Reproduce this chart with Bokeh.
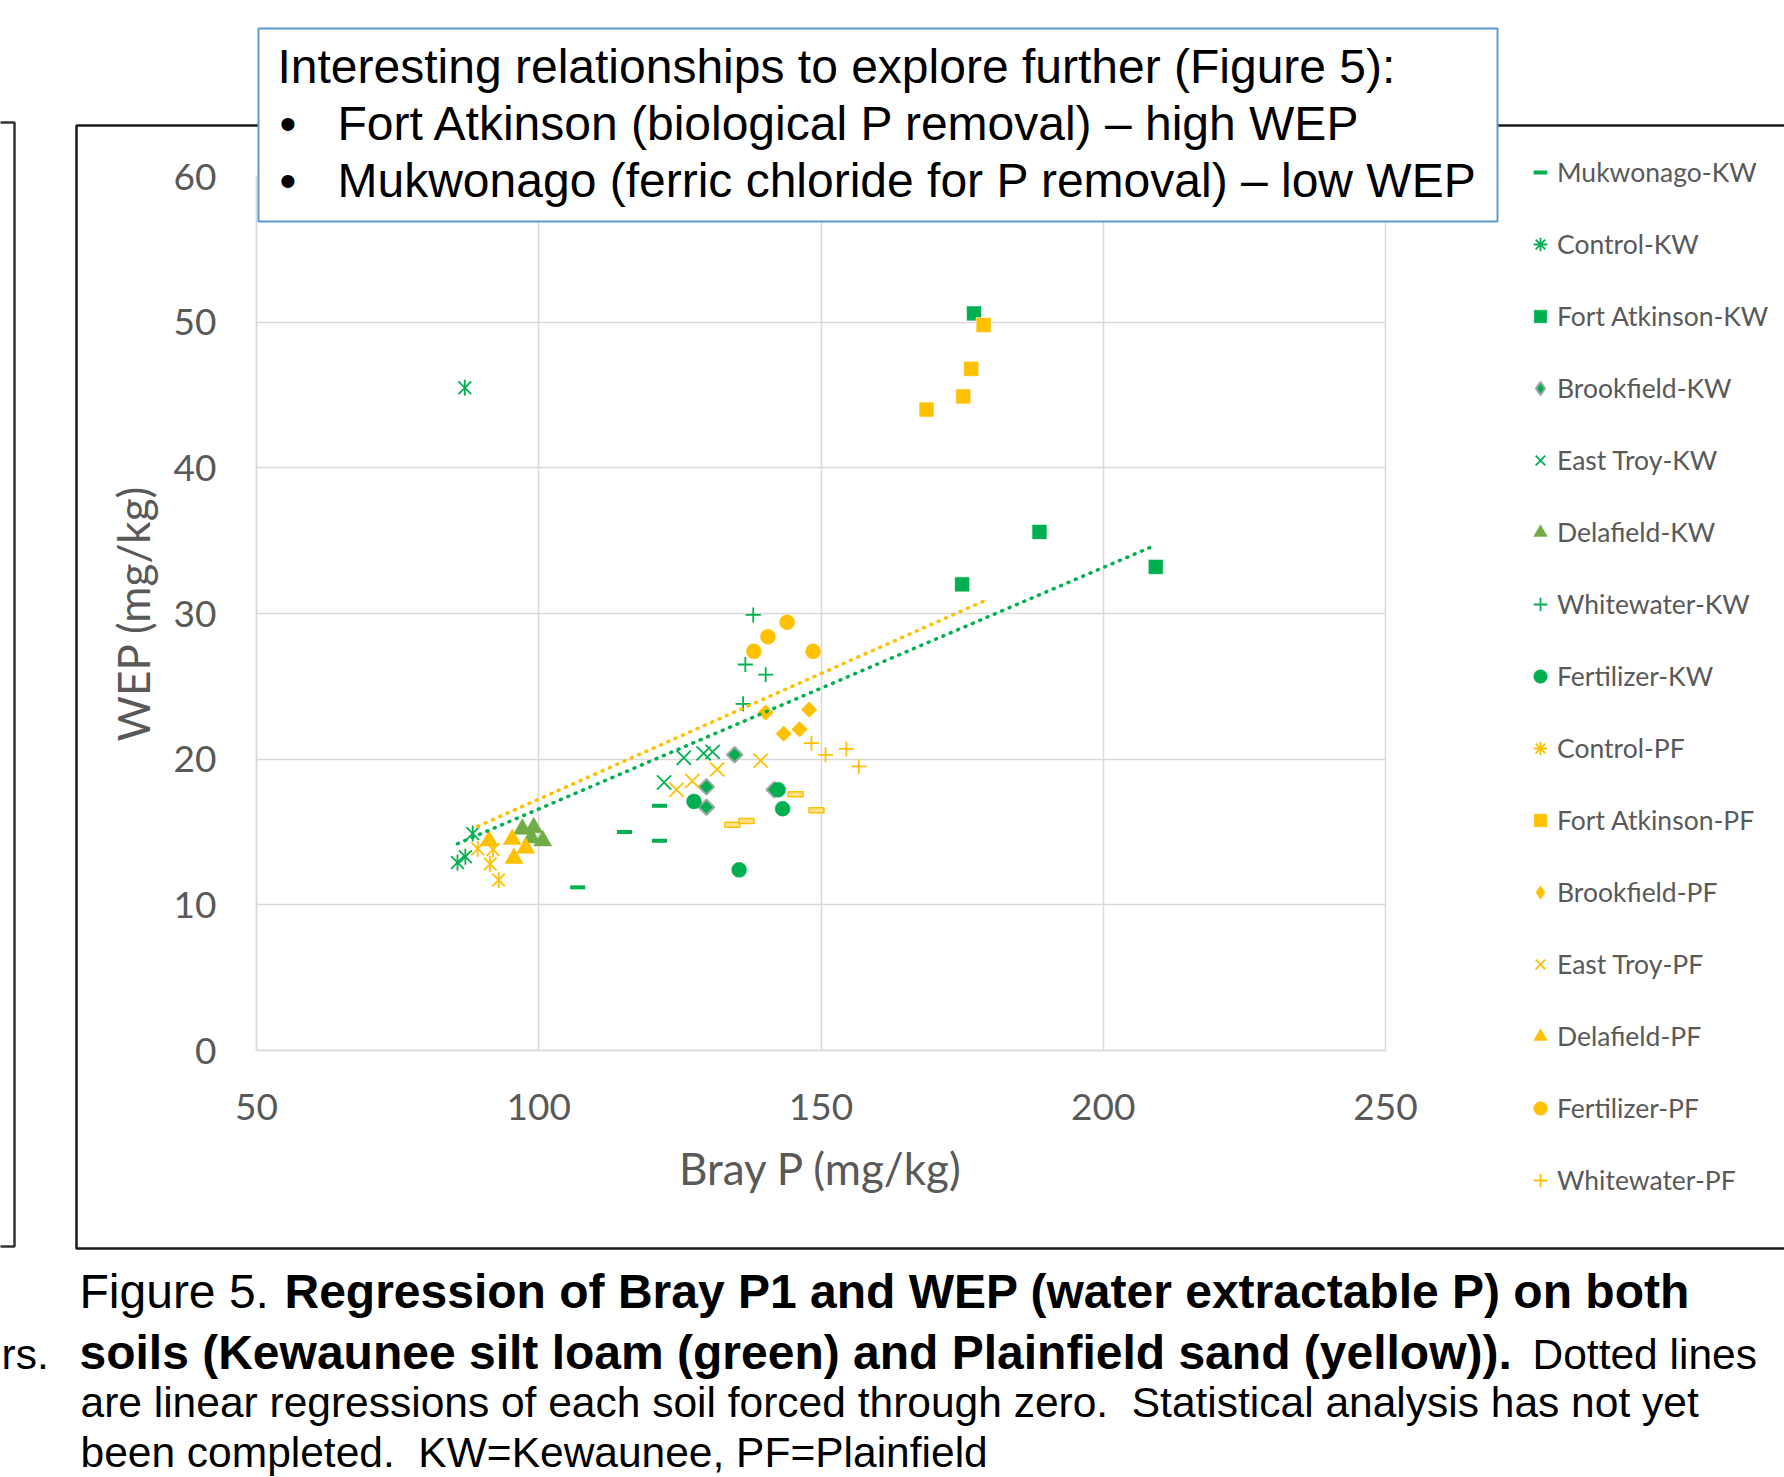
import numpy as np
from bokeh.plotting import figure
from bokeh.models import (Range1d, FixedTicker, Label, BoxAnnotation, Legend,
                          LegendItem)
from bokeh.embed import file_html
from bokeh.resources import INLINE

# ---------------- data (Bray P mg/kg, WEP mg/kg) ----------------
mukwonago_kw_x = [106.9, 115.2, 121.4, 121.4]
mukwonago_kw_y = [11.2, 15.0, 16.8, 14.4]
control_kw_x = [85.6, 87.0, 88.3, 86.9]
control_kw_y = [12.9, 13.3, 14.9, 45.5]
fortatk_kw_x = [177.1, 188.7, 209.3, 175.0]
fortatk_kw_y = [50.6, 35.6, 33.2, 32.0]
brookfield_kw_x = [129.7, 129.7, 134.7, 141.7]
brookfield_kw_y = [18.1, 16.7, 20.3, 17.9]
easttroy_kw_x = [122.2, 125.7, 129.2, 130.8]
easttroy_kw_y = [18.4, 20.1, 20.4, 20.5]
delafield_kw_x = [97.1, 99.1, 98.7, 100.7]
delafield_kw_y = [15.2, 15.3, 14.6, 14.4]
whitewater_kw_x = [138.0, 136.6, 140.2, 136.2]
whitewater_kw_y = [29.9, 26.5, 25.8, 23.8]
fertilizer_kw_x = [127.5, 142.4, 143.2, 135.5]
fertilizer_kw_y = [17.1, 17.9, 16.6, 12.4]

mukwonago_pf_x = [134.3, 136.8, 145.5, 149.2]
mukwonago_pf_y = [15.5, 15.75, 17.6, 16.5]
control_pf_x = [89.2, 91.9, 91.4, 92.9]
control_pf_y = [13.85, 13.8, 12.8, 11.7]
fortatk_pf_x = [178.8, 176.6, 175.2, 168.7]
fortatk_pf_y = [49.8, 46.8, 44.9, 44.0]
brookfield_pf_x = [140.2, 147.9, 143.4, 146.2]
brookfield_pf_y = [23.2, 23.4, 21.75, 22.05]
easttroy_pf_x = [124.4, 127.2, 131.6, 139.3]
easttroy_pf_y = [17.9, 18.5, 19.3, 19.9]
delafield_pf_x = [91.2, 95.3, 95.6, 97.7]
delafield_pf_y = [14.4, 14.5, 13.2, 13.9]
fertilizer_pf_x = [144.0, 140.6, 138.1, 148.6]
fertilizer_pf_y = [29.4, 28.4, 27.4, 27.4]
whitewater_pf_x = [148.3, 150.8, 154.5, 156.7]
whitewater_pf_y = [21.1, 20.3, 20.7, 19.5]

x_ticks = [50, 100, 150, 200, 250]
y_ticks = [0, 10, 20, 30, 40, 50, 60]
X_MIN, X_MAX, Y_MIN, Y_MAX = 50, 250, 0, 60

GREEN = "#00B050"
YELLOW = "#FFC000"
OLIVE = "#70AD47"
GRAY_TXT = "#595959"
GRID = "#D9D9D9"

# ---------------- geometry (canvas pixels of the plot area) ----------------
W, H = 1784, 1477
PX0, PX1 = 256, 1385     # x = 50 .. 250
PY0, PY1 = 1050, 176     # y = 0 .. 60
kx = (X_MAX - X_MIN) / (PX1 - PX0)
ky = (Y_MAX - Y_MIN) / (PY0 - PY1)


def px_x(px):
    return X_MIN + (px - PX0) * kx


def px_y(py):
    return Y_MIN + (PY0 - py) * ky


p = figure(width=W, height=H, output_backend="svg", toolbar_location=None,
           x_range=Range1d(px_x(0), px_x(W)), y_range=Range1d(px_y(H), px_y(0)),
           min_border_left=0, min_border_right=0, min_border_top=0,
           min_border_bottom=0)
p.outline_line_color = None
p.background_fill_color = "white"
p.border_fill_color = "white"

p.xaxis.fixed_location = Y_MIN
p.yaxis.fixed_location = X_MIN
p.xaxis.bounds = (X_MIN, X_MAX)
p.yaxis.bounds = (Y_MIN, Y_MAX)
for ax, ticks in ((p.xaxis[0], x_ticks), (p.yaxis[0], y_ticks)):
    ax.ticker = FixedTicker(ticks=ticks)
    ax.axis_line_color = GRID
    ax.axis_line_width = 1.5
    ax.major_tick_line_color = None
    ax.minor_tick_line_color = None
    ax.major_tick_in = 0
    ax.major_tick_out = 0
    ax.major_label_text_font = "Lato"
    ax.major_label_text_font_size = "37px"
    ax.major_label_text_color = GRAY_TXT
    ax.axis_label_text_font = "Lato"
    ax.axis_label_text_font_size = "44px"
    ax.axis_label_text_font_style = "normal"
    ax.axis_label_text_color = GRAY_TXT
p.xaxis.axis_label = "Bray P (mg/kg)"
p.yaxis.axis_label = "WEP (mg/kg)"
p.xaxis.major_label_standoff = 43
p.yaxis.major_label_standoff = 40
p.xaxis.axis_label_standoff = 19
p.yaxis.axis_label_standoff = 12

p.xgrid.ticker = FixedTicker(ticks=x_ticks)
p.ygrid.ticker = FixedTicker(ticks=y_ticks)
try:
    p.xgrid.bounds = (X_MIN, X_MAX)
    p.ygrid.bounds = (Y_MIN, Y_MAX)
    p.xgrid.cross_bounds = (Y_MIN, Y_MAX)
    p.ygrid.cross_bounds = (X_MIN, X_MAX)
    p.grid.grid_line_color = GRID
    p.grid.grid_line_width = 1.5
except Exception:
    p.grid.grid_line_color = None
    p.segment(x0=x_ticks, x1=x_ticks, y0=[Y_MIN] * len(x_ticks), y1=[Y_MAX] * len(x_ticks),
              line_color=GRID, line_width=1.5, level="underlay")
    p.segment(x0=[X_MIN] * len(y_ticks), x1=[X_MAX] * len(y_ticks), y0=y_ticks, y1=y_ticks,
              line_color=GRID, line_width=1.5, level="underlay")

# ---------------- series ----------------
items = []
LW = 1.8
NAN = [float("nan")]   # legend-only swatches (never drawn in the plot area)


def add(name, xs, ys, kind, color, edge=None):
    rs = []
    legend_rs = None
    if kind == "dash":
        rs.append(p.scatter(xs, ys, marker="dash", size=15, line_width=4, line_color=color))
    elif kind == "asterisk":
        rs.append(p.scatter(xs, ys, marker="x", size=18, line_width=LW, line_color=color))
        rs.append(p.scatter(xs, ys, marker="dash", angle=np.pi / 2, size=16,
                            line_width=LW, line_color=color))
        # legend swatch (markers in the legend are drawn unrotated)
        legend_rs = [p.scatter(x=NAN, y=NAN, marker="asterisk", size=15, line_width=LW,
                               line_color=color)]
    elif kind == "square":
        rs.append(p.scatter(xs, ys, marker="square", size=15, fill_color=color,
                            line_color="white", line_width=0.6))
    elif kind == "diamond":
        rs.append(p.scatter(xs, ys, marker="square", angle=np.pi / 4, size=11,
                            fill_color=color, line_color=edge or color,
                            line_width=2 if edge else 0.5))
        legend_rs = [p.scatter(x=NAN, y=NAN, marker="diamond", size=15, fill_color=color,
                               line_color=edge or color, line_width=2 if edge else 0.5)]
    elif kind == "x":
        rs.append(p.scatter(xs, ys, marker="x", size=20, line_width=LW, line_color=color))
    elif kind == "triangle":
        rs.append(p.scatter(xs, ys, marker="triangle", size=18, fill_color=color,
                            line_color=color, line_width=0.5))
    elif kind == "cross":
        rs.append(p.scatter(xs, ys, marker="cross", size=15, line_width=LW, line_color=color))
    elif kind == "circle":
        rs.append(p.scatter(xs, ys, marker="circle", size=15, fill_color=color,
                            line_color=color, line_width=0.5))
    elif kind == "hollowdash":
        rs.append(p.rect(xs, ys, width=15, height=5, width_units="screen",
                         height_units="screen", fill_color="#FFE38A",
                         line_color=color, line_width=1.5))
    if name:
        items.append(LegendItem(label=name, renderers=legend_rs or rs))


add(None, mukwonago_pf_x, mukwonago_pf_y, "hollowdash", YELLOW)
add("Mukwonago-KW", mukwonago_kw_x, mukwonago_kw_y, "dash", GREEN)
add("Control-KW", control_kw_x, control_kw_y, "asterisk", GREEN)
add("Fort Atkinson-KW", fortatk_kw_x, fortatk_kw_y, "square", GREEN)
add("Brookfield-KW", brookfield_kw_x, brookfield_kw_y, "diamond", GREEN, edge="#A5A5A5")
add("East Troy-KW", easttroy_kw_x, easttroy_kw_y, "x", GREEN)
add("Delafield-KW", delafield_kw_x, delafield_kw_y, "triangle", OLIVE)
add("Whitewater-KW", whitewater_kw_x, whitewater_kw_y, "cross", GREEN)
add("Fertilizer-KW", fertilizer_kw_x, fertilizer_kw_y, "circle", GREEN)
add("Control-PF", control_pf_x, control_pf_y, "asterisk", YELLOW)
add("Fort Atkinson-PF", fortatk_pf_x, fortatk_pf_y, "square", YELLOW)
add("Brookfield-PF", brookfield_pf_x, brookfield_pf_y, "diamond", YELLOW)
add("East Troy-PF", easttroy_pf_x, easttroy_pf_y, "x", YELLOW)
add("Delafield-PF", delafield_pf_x, delafield_pf_y, "triangle", YELLOW)
add("Fertilizer-PF", fertilizer_pf_x, fertilizer_pf_y, "circle", YELLOW)
add("Whitewater-PF", whitewater_pf_x, whitewater_pf_y, "cross", YELLOW)

# ---------------- regressions forced through zero ----------------
kw_x = np.array(mukwonago_kw_x + control_kw_x + fortatk_kw_x + brookfield_kw_x +
                easttroy_kw_x + delafield_kw_x + whitewater_kw_x + fertilizer_kw_x)
kw_y = np.array(mukwonago_kw_y + control_kw_y + fortatk_kw_y + brookfield_kw_y +
                easttroy_kw_y + delafield_kw_y + whitewater_kw_y + fertilizer_kw_y)
pf_x = np.array(mukwonago_pf_x + control_pf_x + fortatk_pf_x + brookfield_pf_x +
                easttroy_pf_x + delafield_pf_x + whitewater_pf_x + fertilizer_pf_x)
pf_y = np.array(mukwonago_pf_y + control_pf_y + fortatk_pf_y + brookfield_pf_y +
                easttroy_pf_y + delafield_pf_y + whitewater_pf_y + fertilizer_pf_y)
for xs, ys, col in ((pf_x, pf_y, YELLOW), (kw_x, kw_y, GREEN)):
    slope = float((xs * ys).sum() / (xs * xs).sum())
    lx = np.array([xs.min(), xs.max()])
    p.line(lx, slope * lx, line_color=col, line_width=3.5, line_dash="1 7",
           line_cap="round")

# ---------------- legend ----------------
N = len(items)
GH, SP = 34, 38
leg_h = N * GH + (N - 1) * SP
leg_top = 171.5 - GH / 2
leg_left = 1540 - GH / 2
legend = Legend(items=items, location=(leg_left, H - leg_top - leg_h),
                glyph_width=GH, glyph_height=GH, label_height=GH, spacing=SP,
                padding=0, margin=0, label_standoff=0,
                border_line_color=None, background_fill_alpha=0,
                label_text_font="Lato", label_text_font_size="26.5px",
                label_text_color=GRAY_TXT)
p.add_layout(legend)

# ---------------- frames around ----------------
p.add_layout(BoxAnnotation(left=px_x(-30), right=px_x(14), top=px_y(122), bottom=px_y(1246),
                           fill_color=None, line_color="#333333", line_alpha=1,
                           line_width=2.5))
p.add_layout(BoxAnnotation(left=px_x(76), right=px_x(1830), top=px_y(125), bottom=px_y(1248),
                           fill_color=None, line_color="#1a1a1a", line_alpha=1,
                           line_width=2.5))
p.add_layout(BoxAnnotation(left=px_x(258), right=px_x(1497), top=px_y(28), bottom=px_y(221),
                           fill_color="white", fill_alpha=1, line_color="#5B9BD5",
                           line_alpha=1, line_width=2))

FONT = "Liberation Sans"


def lab(px, py, text, size, bold=False, align="left"):
    text = text.replace("  ", "\u00a0 ")
    p.add_layout(Label(x=px_x(px), y=px_y(py - 0.355 * size), text=text, text_font=FONT,
                       text_font_size=f"{size}px", text_color="black",
                       text_font_style="bold" if bold else "normal",
                       text_align=align, text_baseline="alphabetic"))


# annotation box text
lab(277, 83, "Interesting relationships to explore further (Figure 5):", 48)
lab(279, 140, "\u2022", 48)
lab(337, 140, "Fort Atkinson (biological P removal) \u2013 high WEP", 48)
lab(279, 197, "\u2022", 48)
lab(337, 197, "Mukwonago (ferric chloride for P removal) \u2013 low WEP", 48)

# caption
lab(79, 1308, "Figure 5.", 48)
lab(284, 1308, "Regression of Bray P1 and WEP (water extractable P) on both", 48, bold=True)
lab(79, 1369, "soils (Kewaunee silt loam (green) and Plainfield sand (yellow)).", 48, bold=True)
lab(1532, 1369, "Dotted lines", 42.5)
lab(80, 1417, "are linear regressions of each soil forced through zero.  Statistical analysis has not yet", 42.5)
lab(80, 1467, "been completed.  KW=Kewaunee, PF=Plainfield", 42.5)
lab(1, 1369, "rs.", 42.5)

open("out.html", "w").write(file_html(p, INLINE))
